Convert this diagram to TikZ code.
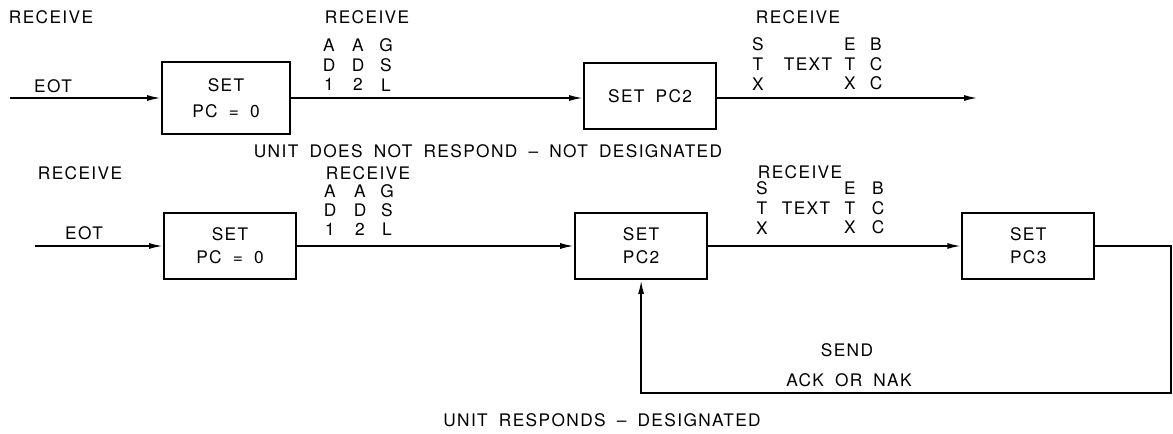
\documentclass[tikz,border=0pt]{standalone}
\usepackage{fontspec}
\setmainfont{TeX Gyre Heros}[LetterSpace=8, WordSpace=1.8]
\usepackage{tikz}
\usetikzlibrary{positioning, arrows.meta}

\newcommand{\lbl}{\fontsize{12.3}{14.5}\selectfont}

\begin{document}
\begin{tikzpicture}[x=0.025cm, y=-0.025cm, node distance=1.5cm, >={Latex[length=3.5mm, width=1.5mm]}, line width=1.3pt, font=\lbl]
    % Stili
    \tikzstyle{block} = [draw, rectangle, minimum height=1.65cm, minimum width=3.3cm, align=center]
    \tikzstyle{input} = [coordinate]
    \tikzstyle{tag} = [inner sep=0pt]
    \tikzstyle{col} = [inner sep=0pt, align=center]

    \useasboundingbox (0,0) rectangle (1173,434);

    % Prima riga: unita' non designata
    \node [input] (in1) at (10,98) {};
    \node [block, minimum height=1.8cm, minimum width=3.2cm] (pc0a) at (226,98) {SET\\[4pt]PC = 0};
    \node [block, right of=pc0a, node distance=10.6cm, yshift=0.05cm] (pc2a) {SET PC2};
    \node [input] (out1) at (978,98) {};

    \node [tag, anchor=west] (rcv1) at (8,17) {RECEIVE};
    \node [tag] (eot1) at (53,86) {EOT};
    \node [tag, anchor=west] (rcv2) at (324,17) {RECEIVE};
    \node [col] (ad1a) at (329,65) {A\\[-0.5pt]D\\[-0.5pt]1};
    \node [col] (ad2a) at (358,65) {A\\[-0.5pt]D\\[-0.5pt]2};
    \node [col] (gsla) at (386,65) {G\\[-0.5pt]S\\[-0.5pt]L};
    \node [tag, anchor=west] (rcv3) at (755,17) {RECEIVE};
    \node [col] (stxa) at (758,64) {S\\[-0.5pt]T\\[-0.5pt]X};
    \node [tag] (txta) at (808,64) {TEXT};
    \node [col] (etxa) at (850,64) {E\\[-0.5pt]T\\[-0.5pt]X};
    \node [col] (bcca) at (876,64) {B\\[-0.5pt]C\\[-0.5pt]C};
    \node [tag] (notdes) at (488,151) {UNIT DOES NOT RESPOND -- NOT DESIGNATED};

    \draw [->] (in1) -- (pc0a);
    \draw [->] (pc0a) -- (pc0a -| pc2a.west);
    \draw [->] (pc0a -| pc2a.east) -- (out1);

    % Seconda riga: unita' designata
    \node [input] (in2) at (35,246) {};
    \node [block] (pc0b) at (230,246) {SET\\[2pt]PC = 0};
    \node [block, right of=pc0b, node distance=10.275cm] (pc2b) {SET\\[2pt]PC2};
    \node [block, right of=pc2b, node distance=9.675cm] (pc3b) {SET\\[2pt]PC3};
    \coordinate (loop) at (1171,393);

    \node [tag, anchor=west] (rcv4) at (37,173) {RECEIVE};
    \node [tag] (eot2) at (84,233) {EOT};
    \node [tag, anchor=west] (rcv5) at (325,173) {RECEIVE};
    \node [col] (ad1b) at (330,210) {A\\[-1.2pt]D\\[-1.2pt]1};
    \node [col] (ad2b) at (360,210) {A\\[-1.2pt]D\\[-1.2pt]2};
    \node [col] (gslb) at (387,210) {G\\[-1.2pt]S\\[-1.2pt]L};
    \node [tag, anchor=west] (rcv6) at (757,172) {RECEIVE};
    \node [col] (stxb) at (762,208) {S\\[-0.5pt]T\\[-0.5pt]X};
    \node [tag] (txtb) at (806,208) {TEXT};
    \node [col] (etxb) at (850,208) {E\\[-0.5pt]T\\[-0.5pt]X};
    \node [col] (bccb) at (878,208) {B\\[-0.5pt]C\\[-0.5pt]C};
    \node [tag] (send) at (847,350) {SEND};
    \node [tag] (ack) at (849,380) {ACK OR NAK};
    \node [tag] (des) at (602,420) {UNIT RESPONDS -- DESIGNATED};

    \draw [->] (in2) -- (pc0b);
    \draw [->] (pc0b) -- (pc2b);
    \draw [->] (pc2b) -- (pc3b);
    % Ritorno ACK/NAK
    \draw [->] (pc3b.east) -| (loop) -| (pc2b.south);

\end{tikzpicture}
\end{document}
